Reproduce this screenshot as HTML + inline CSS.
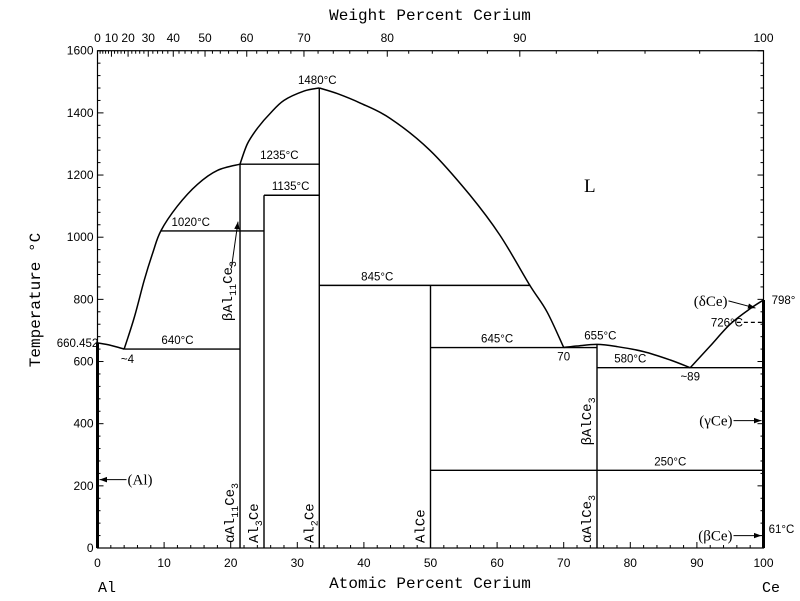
<!DOCTYPE html>
<html><head><meta charset="utf-8"><style>
body{margin:0;background:#fff;}
svg{display:block;font-family:"Liberation Sans",sans-serif;}
.m{font-family:"Liberation Mono",monospace;}
.s{font-family:"Liberation Serif",serif;}
</style></head><body>
<svg id="c" width="800" height="601" viewBox="0 0 800 601"></svg>
<script>
const xTicks=[0,10,20,30,40,50,60,70,80,90,100];
const yTicks=[0,200,400,600,800,1000,1200,1400,1600];
const wtTicks=[0,10,20,30,40,50,60,70,80,90,100];
const liqAl=[[0,660],[2,652],[4,640]];
const liqLeft=[[4,640],[5.5,740],[7,860],[8.3,950],[9.5,1020],[12,1100],[15,1170],[18,1215],[21.4,1235]];
const liqMid=[[21.4,1235],[22.5,1300],[24,1350],[26,1400],[28,1440],[31,1470],[33.3,1480]];
const liqRight=[[33.3,1480],[36,1462],[39.4,1432],[43.9,1383],[49.9,1280],[55.9,1136],[60.4,1007],[64.9,846],[67.5,760],[70,645]];
const liqAlCe3=[[70,645],[72,650],[75,655],[78,648],[82,632],[86,605],[89,580]];
const liqCe=[[89,580],[92,650],[95,720],[98,770],[100,798]];
const horiz=[[4,21.4,640],[9.5,25,1020],[21.4,33.3,1235],[25,33.3,1135],[33.3,65,845],[50,75,645],[75,100,580],[50,100,250]];
const vert=[[21.4,1235],[25,1135],[33.3,1480],[50,845],[75,655]];
const X=a=>97.5+a*6.66, Y=t=>548-t*0.3108;
const NS="http://www.w3.org/2000/svg", svg=document.getElementById('c');
function el(tag,attrs,txt){const e=document.createElementNS(NS,tag);for(const k in attrs)e.setAttribute(k,attrs[k]);if(txt!==undefined)e.textContent=txt;svg.appendChild(e);return e;}
function wtToAt(w){if(w>=100)return 100;const a=w/140.12,b=(100-w)/26.98;return 100*a/(a+b);}
function smooth(c){const p=c.map(q=>[X(q[0]),Y(q[1])]);let d='M'+p[0][0].toFixed(1)+','+p[0][1].toFixed(1);
 for(let i=0;i<p.length-1;i++){const p0=p[Math.max(0,i-1)],p1=p[i],p2=p[i+1],p3=p[Math.min(p.length-1,i+2)];
 const c1=[p1[0]+(p2[0]-p0[0])/6,p1[1]+(p2[1]-p0[1])/6],c2=[p2[0]-(p3[0]-p1[0])/6,p2[1]-(p3[1]-p1[1])/6];
 d+=`C${c1[0].toFixed(1)},${c1[1].toFixed(1)} ${c2[0].toFixed(1)},${c2[1].toFixed(1)} ${p2[0].toFixed(1)},${p2[1].toFixed(1)}`;}
 return d;}
let f=el('rect',{x:X(0),y:Y(1600),width:X(100)-X(0),height:Y(0)-Y(1600),fill:'none',stroke:'#000','stroke-width':1.2});


for(let i=0;i<=100;i+=2){const l=i%10==0?6:3;
 let t=el('line',{x1:X(i),x2:X(i),y1:Y(0),y2:Y(0)-l,stroke:'#000'});
 
 }
for(let v=0;v<=1600;v+=40){const l=v%200==0?6:3;
 let t=el('line',{x1:X(0),x2:X(0)+l,y1:Y(v),y2:Y(v),stroke:'#000'});
 
 
 let t2=el('line',{x1:X(100),x2:X(100)-l,y1:Y(v),y2:Y(v),stroke:'#000'});
 
 }
for(let w=0;w<=100;w+=2){const l=w%10==0?6:3;
 let t=el('line',{x1:X(wtToAt(w)),x2:X(wtToAt(w)),y1:Y(1600),y2:Y(1600)+l,stroke:'#000'});
 
 }
xTicks.forEach(v=>{let t=el('text',{x:X(v),y:567,'font-size':12,'text-anchor':'middle'},v);
 
 });
yTicks.forEach(v=>{let t=el('text',{x:X(0)-4,y:Y(v)+4,'font-size':12,'text-anchor':'end'},v);
 
 });
wtTicks.forEach(v=>{let t=el('text',{x:X(wtToAt(v)),y:42,'font-size':12,'text-anchor':'middle'},v);
 
 });
[liqAl,liqLeft,liqMid,liqRight,liqAlCe3,liqCe].forEach(c=>{
 let p=el('path',{d:smooth(c),fill:'none',stroke:'#000','stroke-width':1.5,'stroke-linejoin':'round'});
 
 });
horiz.forEach(h=>{let l=el('line',{x1:X(h[0]),x2:X(h[1]),y1:Y(h[2]),y2:Y(h[2]),stroke:'#000','stroke-width':1.4});
 
 });
vert.forEach(v=>{let l=el('line',{x1:X(v[0]),x2:X(v[0]),y1:Y(0),y2:Y(v[1]),stroke:'#000','stroke-width':1.4});
 
 });
let d=el('line',{x1:X(96),x2:X(100),y1:Y(726),y2:Y(726),stroke:'#000','stroke-width':1.3,'stroke-dasharray':'4,3'});


let a1=el('line',{x1:X(0),x2:X(0),y1:Y(0),y2:Y(660),stroke:'#000','stroke-width':3});


let a2=el('line',{x1:X(100),x2:X(100),y1:Y(0),y2:Y(798),stroke:'#000','stroke-width':3});


const labels=[[X(4.5)+50,Y(640)-5,'640°C'],[X(14),Y(1020)-5,'1020°C'],[X(27.3),Y(1235)-5,'1235°C'],[X(29),Y(1135)-5,'1135°C'],[X(33.3)-2,Y(1480)-4,'1480°C'],[X(42),Y(845)-5,'845°C'],[X(60),Y(645)-5,'645°C'],[X(75.5),Y(655)-5,'655°C'],[X(80),Y(580)-5,'580°C'],[X(86),Y(250)-5,'250°C'],[X(70),Y(645)+13,'70'],[X(89),Y(580)+13,'~89'],[X(4.5),Y(640)+14,'~4'],[X(94.5),Y(726)+4,'726°C'],[X(100)+20,Y(798)+4,'798°'],[X(100)+18,Y(61)+4,'61°C'],[X(0)-20,Y(660)+4,'660.452']];
labels.forEach(l=>{let t=el('text',{x:l[0],y:l[1],'font-size':11.5,'text-anchor':'middle'},l[2]);
 
 });
let L=el('text',{x:584,y:192,'font-size':19,'class':'s'},'L');


const phases=[[X(0)+30,Y(220)+5,'(Al)','start'],[X(100)-31,Y(410)+5,'(γCe)','end'],[X(100)-31,Y(40)+5,'(βCe)','end'],[X(100)-36,Y(795)+5,'(δCe)','end']];
phases.forEach(p=>{let t=el('text',{x:p[0],y:p[1],'font-size':15,'text-anchor':p[3],'class':'s'},p[2]);
 
 });
const arrows=[[X(0)+29,Y(220),X(0)+2,Y(220)],[X(100)-30,Y(410),X(100)-2,Y(410)],[X(100)-30,Y(40),X(100)-2,Y(40)],[X(100)-35,Y(795),X(98.8),Y(772)],[X(21)-6,Y(900),X(21.4)-2,Y(1050)]];
arrows.forEach(a=>{let l=el('line',{x1:a[0],y1:a[1],x2:a[2],y2:a[3],stroke:'#000'});
 
 
 const ang=Math.atan2(a[3]-a[1],a[2]-a[0]),s=8;
 let h=el('polygon',{points:`${a[2]},${a[3]} ${a[2]-s*Math.cos(ang-0.35)},${a[3]-s*Math.sin(ang-0.35)} ${a[2]-s*Math.cos(ang+0.35)},${a[3]-s*Math.sin(ang+0.35)}`,fill:'#000'});
 
 });
const vlabels=[[X(21.4)-6,Y(0)-5,'αAl','11','Ce','3'],[X(25)-6,Y(0)-5,'Al','3','Ce',''],[X(33.3)-6,Y(0)-5,'Al','2','Ce',''],[X(50)-6,Y(0)-5,'AlCe','','',''],[X(75)-6,Y(0)-5,'αAlCe','3','',''],[X(75)-6,Y(330),'βAlCe','3','',''],[X(21.4)-8,Y(730),'βAl','11','Ce','3']];
vlabels.forEach(v=>{let t=el('text',{x:v[0],y:v[1],'font-size':14,transform:`rotate(-90 ${v[0]} ${v[1]})`,'class':'m'});
 
 
 [[v[2],0],[v[3],1],[v[4],0],[v[5],1]].forEach(s=>{if(!s[0])return;const sp=document.createElementNS(NS,'tspan');sp.textContent=s[0];if(s[1]){sp.setAttribute('font-size','10');sp.setAttribute('dy','4');}else{sp.setAttribute('dy', t.childNodes.length?'-4':'0');}t.appendChild(sp);});});
let xt=el('text',{x:430,y:588,'font-size':16,'text-anchor':'middle','class':'m'},'Atomic Percent Cerium');


let wt=el('text',{x:430,y:20,'font-size':16,'text-anchor':'middle','class':'m'},'Weight Percent Cerium');


let yt=el('text',{x:40,y:300,'font-size':16,'text-anchor':'middle','class':'m',transform:'rotate(-90 40 300)'},'Temperature °C');


let al=el('text',{x:98,y:592,'font-size':15,'class':'m'},'Al');


let ce=el('text',{x:762,y:592,'font-size':15,'class':'m'},'Ce');


</script>
</body></html>
